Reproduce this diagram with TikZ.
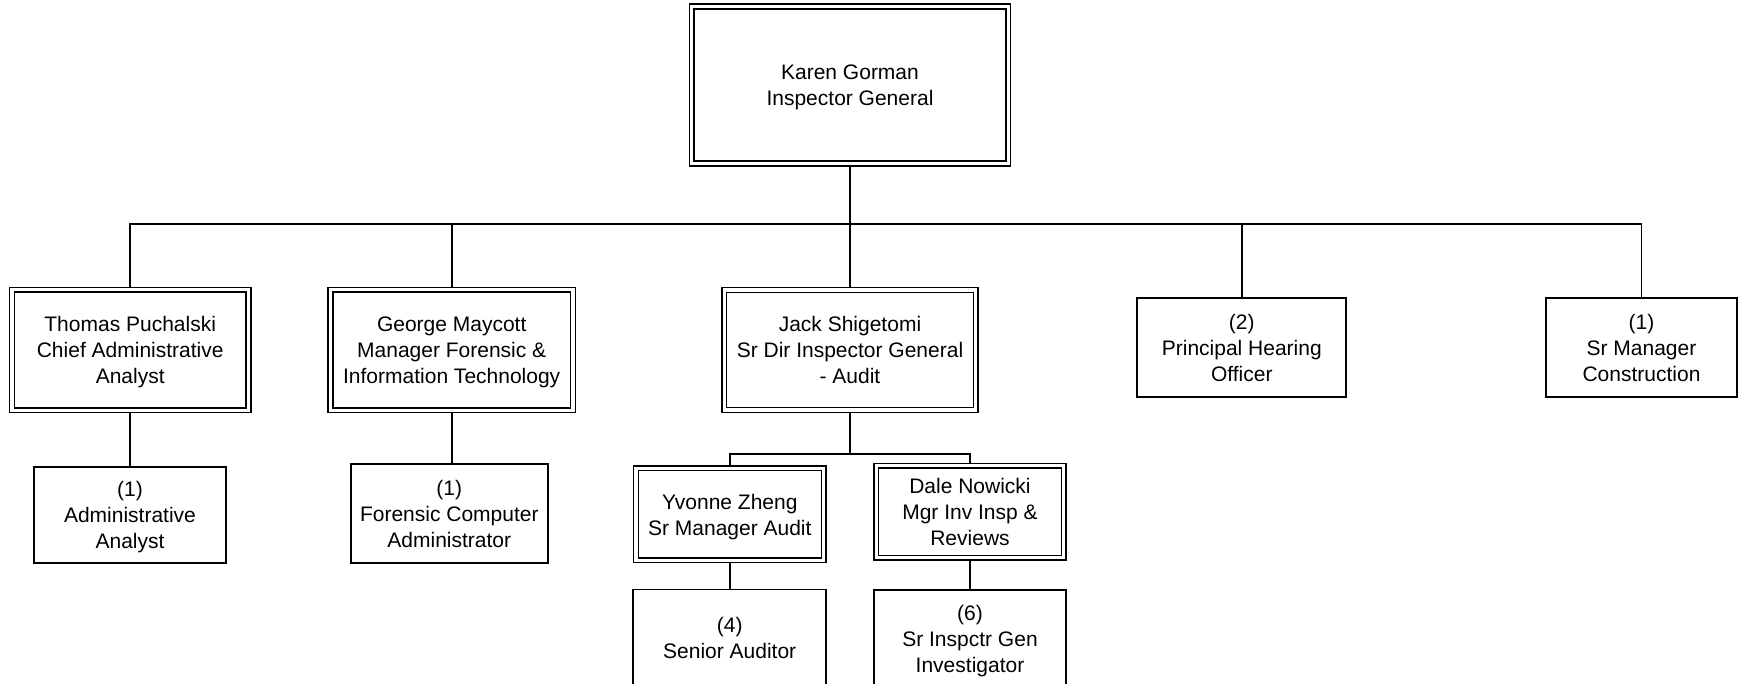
\documentclass[tikz,border=0pt]{standalone}
\usepackage{fontspec}
\setmainfont{Liberation Sans}
\usetikzlibrary{backgrounds}
\newcommand{\tx}[1]{\raisebox{-2.5pt}[\height][\depth]{\begin{tabular}{@{}c@{}}#1\end{tabular}}}
\begin{document}
\begin{tikzpicture}[x=1pt,y=-1pt,
  box/.style={draw, line width=1.8pt, fill=white, inner sep=0pt,
    font=\fontsize{21}{26}\selectfont},
  dbox/.style={box, double, double distance=3.3pt, line width=1.5pt},
  conn/.style={line width=1.8pt}]
\clip (0,0) rectangle (1738,684);
% top
\node[dbox, minimum width=316.6pt, minimum height=157pt] (kg) at (850,85) {\tx{Karen Gorman\\Inspector General}};
% level 2
\node[dbox, minimum width=236.3pt, minimum height=120.6pt] (tp) at (130.2,350) {\tx{Thomas Puchalski\\Chief Administrative\\Analyst}};
\node[dbox, minimum width=242.7pt, minimum height=120.6pt] (gm) at (451.7,350) {\tx{George Maycott\\Manager Forensic \&\\Information Technology}};
\node[dbox, minimum width=251.6pt, minimum height=120pt] (js) at (850,350) {\tx{Jack Shigetomi\\Sr Dir Inspector General\\- Audit}};
\node[box, minimum width=209pt, minimum height=99.6pt] (ph) at (1241.8,347.5) {\tx{(2)\\Principal Hearing\\Officer}};
\node[box, minimum width=191.6pt, minimum height=99.6pt] (sm) at (1641.5,347.5) {\tx{(1)\\Sr Manager\\Construction}};
% level 3
\node[box, minimum width=192pt, minimum height=95.7pt] (aa) at (130,514.8) {\tx{(1)\\Administrative\\Analyst}};
\node[box, minimum width=197.3pt, minimum height=99pt] (fc) at (449.3,513.8) {\tx{(1)\\Forensic Computer\\Administrator}};
\node[dbox, minimum width=187.7pt, minimum height=92pt] (yz) at (729.8,514.3) {\tx{Yvonne Zheng\\Sr Manager Audit}};
\node[dbox, minimum width=187.4pt, minimum height=92pt] (dn) at (970,511.7) {\tx{Dale Nowicki\\Mgr Inv Insp \&\\Reviews}};
% level 4
\node[box, minimum width=192.7pt, minimum height=97pt] (sa) at (729.7,638) {\tx{(4)\\Senior Auditor}};
\node[box, minimum width=192pt, minimum height=97pt] (si) at (970,638.3) {\tx{(6)\\Sr Inspctr Gen\\Investigator}};
% connectors
\coordinate (busy) at (0,224);
\coordinate (suby) at (0,454);
\begin{scope}[on background layer]
\draw[conn] (kg.south) -- (kg.south |- busy) -| (tp.north);
\draw[conn] (kg.south |- busy) -| (gm.north);
\draw[conn] (kg.south) -- (js.north);
\draw[conn] (kg.south |- busy) -| (ph.north);
\draw[conn] (kg.south |- busy) -| (sm.north);
\draw[conn] (tp.south) -- (tp.south |- aa.north);
\draw[conn] (gm.south) -- (gm.south |- fc.north);
\draw[conn] (js.south) -- (js.south |- suby) -| (yz.north);
\draw[conn] (js.south |- suby) -| (dn.north);
\draw[conn] (yz.south) -- (yz.south |- sa.north);
\draw[conn] (dn.south) -- (dn.south |- si.north);
\end{scope}
\end{tikzpicture}
\end{document}
